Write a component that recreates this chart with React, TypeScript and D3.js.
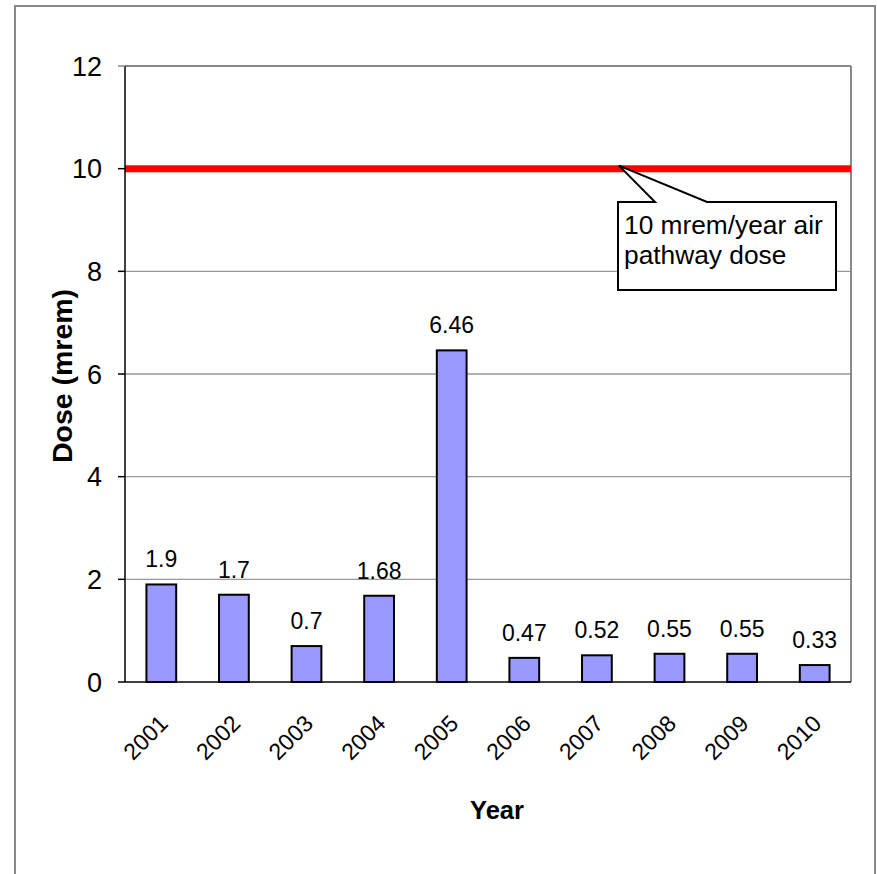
import React from "react";
import * as d3 from "d3";

const years = ["2001", "2002", "2003", "2004", "2005", "2006", "2007", "2008", "2009", "2010"];
const doses = [1.9, 1.7, 0.7, 1.68, 6.46, 0.47, 0.52, 0.55, 0.55, 0.33];
const yTicks = [0, 2, 4, 6, 8, 10, 12];
const limitValue = 10;
const calloutLines = ["10 mrem/year air", "pathway dose"];
const xTitle = "Year";
const yTitle = "Dose (mrem)";

const W = 877;
const H = 874;
const FONT = "'Liberation Sans', Arial, sans-serif";

export default function App() {
  const left = 125, right = 851, top = 66, bottom = 682;
  const x = d3.scaleBand<string>().domain(years).range([left, right]).paddingInner(0.59).paddingOuter(0.295);
  const y = d3.scaleLinear().domain([0, 12]).range([bottom, top]);
  const bw = x.bandwidth();
  const ly = y(limitValue);

  // callout box geometry
  const bx0 = 618, bx1 = 836, by0 = 202, by1 = 290;
  const tipX = 619;
  const calloutPath = `M${bx0},${by0} L655,${by0} L${tipX},${ly - 3} L707,${by0} L${bx1},${by0} L${bx1},${by1} L${bx0},${by1} Z`;

  return (
    <svg width={W} height={H} style={{ position: "absolute", left: 0, top: 0 }} fontFamily={FONT}>
      <rect x={0} y={0} width={W} height={H} fill="white" />
      <rect x={15} y={6} width={860} height={H + 20} fill="none" stroke="#888" strokeWidth={2} />
      {/* gridlines */}
      {yTicks.filter((t) => t > 0 && t < 12).map((t) => (
        <line key={t} x1={left} x2={right} y1={y(t)} y2={y(t)} stroke="#999" strokeWidth={1.3} />
      ))}
      {/* plot border top/right */}
      <line x1={left} x2={right} y1={top} y2={top} stroke="#888" strokeWidth={2} />
      <line x1={right} x2={right} y1={top} y2={bottom} stroke="#888" strokeWidth={2} />
      {/* bars */}
      {doses.map((d, i) => (
        <rect key={years[i]} x={x(years[i])!} y={y(d)} width={bw} height={y(0) - y(d)}
          fill="#9999ff" stroke="black" strokeWidth={2} />
      ))}
      {/* value labels */}
      {doses.map((d, i) => (
        <text key={"l" + i} x={x(years[i])! + bw / 2} y={y(d) - 17} textAnchor="middle" fontSize={23}>
          {String(d)}
        </text>
      ))}
      {/* limit line */}
      <line x1={left} x2={right} y1={ly} y2={ly} stroke="#ff0000" strokeWidth={7} />
      {/* axes */}
      <line x1={left} x2={left} y1={top} y2={bottom} stroke="black" strokeWidth={1.5} />
      <line x1={left} x2={right} y1={bottom} y2={bottom} stroke="black" strokeWidth={1.5} />
      {yTicks.map((t) => (
        <g key={"t" + t}>
          <line x1={118} x2={left} y1={y(t)} y2={y(t)} stroke={t === 12 ? "#888" : "black"} strokeWidth={1.5} />
          <text x={102} y={y(t) + 9.5} textAnchor="end" fontSize={27}>{t}</text>
        </g>
      ))}
      {years.map((yr) => {
        const cx = x(yr)! + bw / 2;
        return (
          <text key={"x" + yr} transform={`translate(${cx + 8},${725}) rotate(-45)`} textAnchor="end" fontSize={23}>
            {yr}
          </text>
        );
      })}
      {/* titles */}
      <text x={497} y={819} textAnchor="middle" fontSize={25.5} fontWeight="bold">{xTitle}</text>
      <text transform={`translate(72,376) rotate(-90)`} textAnchor="middle" fontSize={28.5} fontWeight="bold">
        {yTitle}
      </text>
      {/* callout */}
      <path d={calloutPath} fill="white" stroke="black" strokeWidth={2} />
      {calloutLines.map((s, i) => (
        <text key={"c" + i} x={624} y={234 + i * 30} fontSize={26.3}>{s}</text>
      ))}
    </svg>
  );
}
